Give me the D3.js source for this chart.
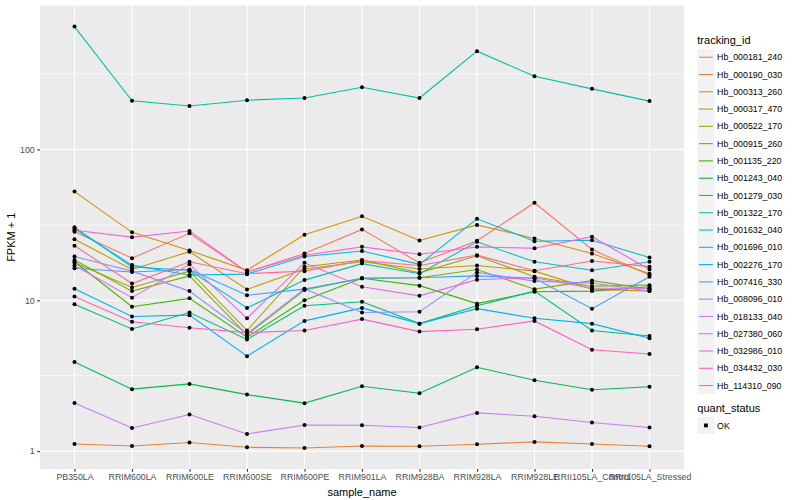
<!DOCTYPE html>
<html>
<head>
<meta charset="utf-8">
<script src="https://cdn.jsdelivr.net/npm/d3@7"></script>
<style>
body { margin: 0; background: #fff; }
text { font-family: "Liberation Sans", Arial, sans-serif; }
</style>
</head>
<body>
<div id="chart"></div>
<script>
const samples = ['PB350LA', 'RRIM600LA', 'RRIM600LE', 'RRIM600SE', 'RRIM600PE', 'RRIM901LA',
    'RRIM928BA', 'RRIM928LA', 'RRIM928LE', 'RRII105LA_Control', 'RRII105LA_Stressed'];

const trackingIds = ['Hb_000181_240', 'Hb_000190_030', 'Hb_000313_260', 'Hb_000317_470', 'Hb_000522_170',
    'Hb_000915_260', 'Hb_001135_220', 'Hb_001243_040', 'Hb_001279_030', 'Hb_001322_170',
    'Hb_001632_040', 'Hb_001696_010', 'Hb_002276_170', 'Hb_007416_330', 'Hb_008096_010',
    'Hb_018133_040', 'Hb_027380_060', 'Hb_032986_010', 'Hb_034432_030', 'Hb_114310_090'];

// FPKM + 1, one value per sample
const hb_000181_240 = [28.5, 19.0, 27.8, 15.4, 20.4, 29.5, 17.7, 24.8, 44.3, 21.7, 14.7];
const hb_000190_030 = [1.116, 1.082, 1.14, 1.061, 1.05, 1.082, 1.078, 1.111, 1.151, 1.116, 1.078];
const hb_000313_260 = [52.5, 28.2, 21.4, 15.8, 27.2, 36.0, 24.9, 31.6, 25.7, 20.4, 15.0];
const hb_000317_470 = [25.4, 16.0, 21.0, 11.8, 16.1, 18.0, 16.1, 17.0, 15.6, 11.85, 11.5];
const hb_000522_170 = [17.7, 12.15, 15.6, 6.3, 16.7, 18.5, 15.2, 19.7, 14.3, 12.4, 12.6];
const hb_000915_260 = [18.5, 11.5, 14.5, 5.9, 11.7, 14.0, 14.1, 16.0, 11.85, 13.5, 11.85];
const hb_001135_220 = [18.0, 9.06, 10.3, 5.7, 10.0, 14.0, 12.5, 9.5, 11.4, 11.5, 12.3];
const hb_001243_040 = [3.9, 2.575, 2.79, 2.37, 2.08, 2.69, 2.42, 3.6, 2.95, 2.55, 2.67];
const hb_001279_030 = [9.4, 6.45, 8.3, 5.5, 9.2, 9.77, 7.0, 9.2, 11.5, 6.3, 5.8];
const hb_001322_170 = [652, 210, 194, 212, 219, 258, 219, 448, 305, 252, 209];
const hb_001632_040 = [30.5, 16.6, 15.8, 8.9, 13.6, 17.5, 15.0, 24.4, 18.0, 15.8, 18.0];
const hb_001696_010 = [29.8, 17.1, 14.7, 14.9, 19.5, 21.2, 17.3, 34.7, 24.6, 25.0, 19.2];
const hb_002276_170 = [11.9, 7.8, 7.97, 4.26, 7.3, 8.9, 7.0, 8.8, 7.6, 7.0, 5.6];
const hb_007416_330 = [16.3, 15.4, 16.0, 10.8, 11.85, 14.0, 14.1, 14.5, 14.0, 8.8, 14.3];
const hb_008096_010 = [19.5, 15.6, 11.5, 6.0, 11.9, 8.3, 8.4, 15.3, 13.4, 13.0, 11.5];
const hb_018133_040 = [2.088, 1.425, 1.75, 1.30, 1.49, 1.485, 1.434, 1.792, 1.704, 1.548, 1.434];
const hb_027380_060 = [17.0, 10.4, 17.3, 7.6, 17.7, 12.3, 10.7, 13.7, 14.1, 12.0, 12.0];
const hb_032986_010 = [29.1, 26.2, 28.8, 15.4, 19.9, 22.6, 20.2, 22.6, 22.1, 26.4, 16.0];
const hb_034432_030 = [10.6, 7.2, 6.57, 6.1, 6.3, 7.5, 6.2, 6.43, 7.3, 4.7, 4.4];
const hb_114310_090 = [23.0, 12.9, 18.0, 15.0, 15.6, 18.3, 17.0, 19.9, 15.7, 18.2, 16.7];

const yTicks = [1, 10, 100];
const statusLabels = ['OK'];

const seriesValues = [hb_000181_240, hb_000190_030, hb_000313_260, hb_000317_470, hb_000522_170,
    hb_000915_260, hb_001135_220, hb_001243_040, hb_001279_030, hb_001322_170,
    hb_001632_040, hb_001696_010, hb_002276_170, hb_007416_330, hb_008096_010,
    hb_018133_040, hb_027380_060, hb_032986_010, hb_034432_030, hb_114310_090];

// ggplot default hue palette for 20 levels
const palette = ['#F8766D', '#EA8331', '#D89000', '#C09B00', '#A3A500', '#7CAE00', '#39B600',
    '#00BB4E', '#00BF7D', '#00C1A3', '#00BFC4', '#00BAE0', '#00B0F6', '#35A2FF', '#9590FF',
    '#C77CFF', '#E76BF3', '#FA62DB', '#FF62BC', '#FF6C91'];

const series = trackingIds.map((id, i) => ({
    id: id,
    color: palette[i],
    points: samples.map((s, j) => ({ sample: s, value: seriesValues[i][j] }))
}));

const svgWidth = 800;
const svgHeight = 500;
const margin = { top: 5.5, right: 116, bottom: 31, left: 40 };
const width = svgWidth - margin.left - margin.right;
const height = svgHeight - margin.top - margin.bottom;

const svg = d3.select('#chart')
    .append('svg')
    .attr('width', svgWidth)
    .attr('height', svgHeight);

const g = svg.append('g')
    .attr('transform', 'translate(' + margin.left + ',' + margin.top + ')');

const xScale = d3.scalePoint()
    .domain(samples)
    .range([0, width])
    .padding(0.6);

// log scale with ggplot's 5% expansion in log space
const allValues = seriesValues.flat();
const logMin = Math.log10(d3.min(allValues));
const logMax = Math.log10(d3.max(allValues));
const pad = (logMax - logMin) * 0.05;
const yScale = d3.scaleLog()
    .domain([Math.pow(10, logMin - pad), Math.pow(10, logMax + pad)])
    .range([height, 0]);

g.append('rect')
    .attr('width', width)
    .attr('height', height)
    .attr('fill', '#EBEBEB');

// minor grid halfway between decades
const minorTicks = [0.1, 1, 10, 100, 1000].map(d => d * Math.sqrt(10))
    .filter(d => d > yScale.domain()[0] && d < yScale.domain()[1]);
g.selectAll('.minor')
    .data(minorTicks)
    .enter().append('line')
    .attr('x1', 0)
    .attr('x2', width)
    .attr('y1', d => yScale(d))
    .attr('y2', d => yScale(d))
    .attr('stroke', '#fff')
    .attr('stroke-width', 0.55);

g.selectAll('.major-y')
    .data(yTicks)
    .enter().append('line')
    .attr('x1', 0)
    .attr('x2', width)
    .attr('y1', d => yScale(d))
    .attr('y2', d => yScale(d))
    .attr('stroke', '#fff')
    .attr('stroke-width', 1.1);

g.selectAll('.major-x')
    .data(samples)
    .enter().append('line')
    .attr('x1', d => xScale(d))
    .attr('x2', d => xScale(d))
    .attr('y1', 0)
    .attr('y2', height)
    .attr('stroke', '#fff')
    .attr('stroke-width', 1.1);

const line = d3.line()
    .x(d => xScale(d.sample))
    .y(d => yScale(d.value));

g.selectAll('.series')
    .data(series)
    .enter().append('path')
    .attr('d', d => line(d.points))
    .attr('fill', 'none')
    .attr('stroke', d => d.color)
    .attr('stroke-width', 1.1);

g.selectAll('.pt')
    .data(series.flatMap(d => d.points))
    .enter().append('circle')
    .attr('cx', d => xScale(d.sample))
    .attr('cy', d => yScale(d.value))
    .attr('r', 2)
    .attr('fill', '#000');

// axes
const xAxis = g.append('g')
    .attr('transform', 'translate(0,' + height + ')')
    .call(d3.axisBottom(xScale).tickSize(2.75).tickPadding(2.5));
const yAxis = g.append('g')
    .call(d3.axisLeft(yScale).tickValues(yTicks).tickFormat(d3.format('d')).tickSize(2.75).tickPadding(2.5));

[xAxis, yAxis].forEach(ax => {
    ax.select('.domain').remove();
    ax.selectAll('.tick line').attr('stroke', '#333').attr('stroke-width', 1.1);
    ax.selectAll('.tick text')
        .attr('fill', '#4D4D4D')
        .style('font-size', '8.8px')
        .style('font-family', '"Liberation Sans", Arial, sans-serif');
});

g.append('text')
    .attr('x', width / 2)
    .attr('y', height + 27)
    .attr('text-anchor', 'middle')
    .style('font-size', '11px')
    .text('sample_name');

g.append('text')
    .attr('transform', 'rotate(-90)')
    .attr('x', -height / 2)
    .attr('y', -margin.left + 15)
    .attr('text-anchor', 'middle')
    .style('font-size', '11px')
    .text('FPKM + 1');

// legend
const keySize = 17.28;
const legendX = 697.3;
const legend = svg.append('g')
    .attr('transform', 'translate(' + legendX + ',0)');

legend.append('text')
    .attr('x', 0)
    .attr('y', 44)
    .style('font-size', '11px')
    .text('tracking_id');

const keys = legend.selectAll('.key')
    .data(series)
    .enter().append('g')
    .attr('transform', (d, i) => 'translate(0,' + (48.6 + i * keySize) + ')');

keys.append('rect')
    .attr('width', keySize)
    .attr('height', keySize)
    .attr('fill', '#F2F2F2');

keys.append('line')
    .attr('x1', keySize * 0.1)
    .attr('x2', keySize * 0.9)
    .attr('y1', keySize / 2)
    .attr('y2', keySize / 2)
    .attr('stroke', d => d.color)
    .attr('stroke-width', 1.1);

keys.append('text')
    .attr('x', keySize + 2.5)
    .attr('y', keySize / 2)
    .attr('dy', '0.35em')
    .style('font-size', '8.8px')
    .text(d => d.id);

const statusTop = 48.6 + trackingIds.length * keySize + 18;
legend.append('text')
    .attr('x', 0)
    .attr('y', statusTop)
    .style('font-size', '11px')
    .text('quant_status');

const sKeys = legend.selectAll('.skey')
    .data(statusLabels)
    .enter().append('g')
    .attr('transform', (d, i) => 'translate(0,' + (statusTop + 4.6 + i * keySize) + ')');

sKeys.append('rect')
    .attr('width', keySize)
    .attr('height', keySize)
    .attr('fill', '#F2F2F2');

sKeys.append('rect')
    .attr('x', keySize / 2 - 1.9)
    .attr('y', keySize / 2 - 1.9)
    .attr('width', 3.8)
    .attr('height', 3.8)
    .attr('fill', '#000');

sKeys.append('text')
    .attr('x', keySize + 2.5)
    .attr('y', keySize / 2)
    .attr('dy', '0.35em')
    .style('font-size', '8.8px')
    .text(d => d);
</script>
</body>
</html>
